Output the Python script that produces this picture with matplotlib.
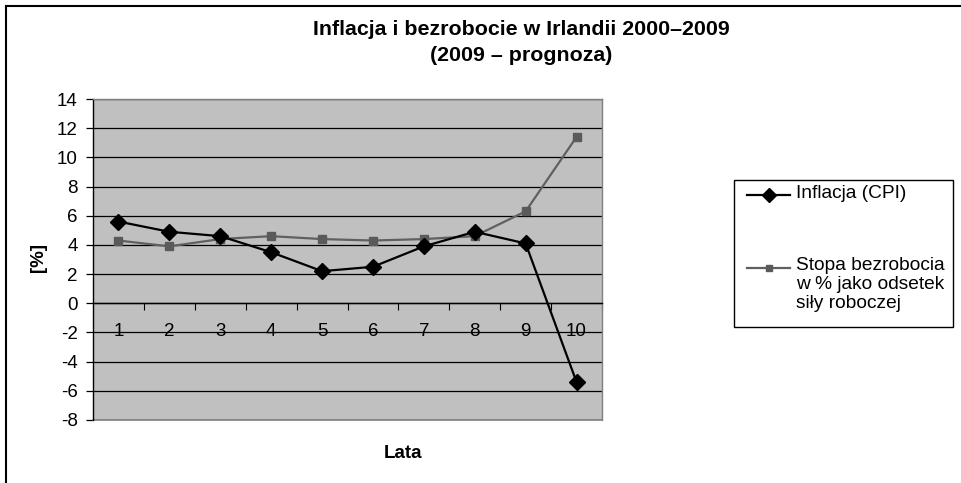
import matplotlib
matplotlib.use("Agg")
import matplotlib.pyplot as plt
from matplotlib.lines import Line2D
from matplotlib.patches import Rectangle
import numpy as np

plt.rcParams['font.family'] = ['Liberation Sans', 'DejaVu Sans']

years = [1, 2, 3, 4, 5, 6, 7, 8, 9, 10]
inflation = [5.6, 4.9, 4.6, 3.5, 2.2, 2.5, 3.9, 4.9, 4.1, -5.4]
unemployment = [4.3, 3.9, 4.4, 4.6, 4.4, 4.3, 4.4, 4.6, 6.3, 11.4]
yticks = [-8, -6, -4, -2, 0, 2, 4, 6, 8, 10, 12, 14]

title = "Inflacja i bezrobocie w Irlandii 2000\u20132009\n(2009 \u2013 prognoza)"
label_infl = "Inflacja (CPI)"
label_unemp = "Stopa bezrobocia\nw % jako odsetek\nsiły roboczej"

W, H = 961, 483
fig = plt.figure(figsize=(W / 100, H / 100), dpi=100)
fig.patch.set_facecolor('white')

def fx(px):
    return px / W

def fy(py):
    return 1 - py / H

ax = fig.add_axes([fx(93), fy(420), (602 - 93) / W, (420 - 99) / H])
ax.set_facecolor('#c0c0c0')
ax.set_xlim(0.5, 10.5)
ax.set_ylim(-8, 14)

ax.set_yticks(yticks)
ax.yaxis.grid(True, color='black', linewidth=0.9)
ax.set_axisbelow(True)

unemp_style = dict(color='#606060', linewidth=1.6, marker='s', markersize=5.5,
                   markerfacecolor='#5a5a5a', markeredgecolor='#5a5a5a')
infl_style = dict(color='black', linewidth=1.6, marker='D', markersize=8,
                  markerfacecolor='black', markeredgecolor='black')

ax.plot(years, unemployment, label=label_unemp, zorder=3, **unemp_style)
ax.plot(years, inflation, label=label_infl, zorder=4, **infl_style)

for s in ['top', 'right']:
    ax.spines[s].set_color('#808080')
    ax.spines[s].set_linewidth(1.0)
ax.spines['left'].set_color('black')
ax.spines['left'].set_linewidth(1.0)
ax.spines['bottom'].set_position(('data', 0))
ax.spines['bottom'].set_color('black')
ax.spines['bottom'].set_linewidth(1.0)
ax.axhline(-8, color='#808080', linewidth=1.2, zorder=2, clip_on=False)

ax.set_xticks(years)
ax.set_xticklabels([str(y) for y in years], fontsize=13.5)
ax.set_xticks(np.arange(1.5, 10.6, 1.0), minor=True)
ax.tick_params(axis='x', which='major', length=0, pad=14)
ax.tick_params(axis='x', which='minor', length=5, direction='out', color='black', width=0.8)

ax.tick_params(axis='y', which='major', length=5, direction='out', color='black',
               width=0.9, labelsize=13.5, pad=6)
ax.set_yticklabels([str(t) for t in yticks])

fig.text(fx(38), fy(257), "[%]", rotation=90, fontsize=13.5, fontweight='bold',
         ha='center', va='center')
fig.text(fx(403), fy(453), "Lata", fontsize=13.5, fontweight='bold',
         ha='center', va='center')
fig.text(fx(521), fy(42.5), title, fontsize=15.4, fontweight='bold',
         ha='center', va='center', linespacing=1.45)

# legend (Excel-style layout)
fig.add_artist(Rectangle((fx(734), fy(327)), (953 - 734) / W, (327 - 180) / H,
                         transform=fig.transFigure, facecolor='white',
                         edgecolor='black', linewidth=1.0))
legend_entries = [(label_infl, infl_style, 195, 7), (label_unemp, unemp_style, 268, 5)]
for lab, style, yc, ms in legend_entries:
    st = dict(style)
    st['markersize'] = ms
    st['marker'] = None
    fig.add_artist(Line2D([fx(747), fx(790)], [fy(yc), fy(yc)],
                          transform=fig.transFigure, color=st['color'],
                          linewidth=st['linewidth']))
    fig.add_artist(Line2D([fx(768.5)], [fy(yc)], transform=fig.transFigure,
                          linestyle='none', marker=style['marker'], markersize=ms,
                          markerfacecolor=style['markerfacecolor'],
                          markeredgecolor=style['markeredgecolor']))
    fig.text(fx(796), fy(yc - 10.5), lab, fontsize=13.8, ha='left', va='top',
             multialignment='left', linespacing=1.12)

fig.add_artist(Line2D([fx(6), fx(6)], [0, fy(6)], color='black', linewidth=1.5,
                      transform=fig.transFigure))
fig.add_artist(Line2D([fx(6), 1], [fy(6), fy(6)], color='black', linewidth=1.5,
                      transform=fig.transFigure))

fig.savefig('out.png', dpi=100, facecolor='white')
